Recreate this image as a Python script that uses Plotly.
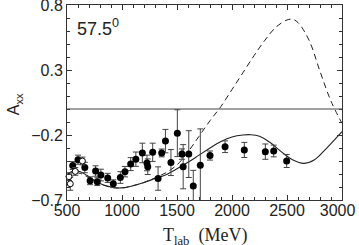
import plotly.graph_objects as go

# Theory curves
curve_T = [500, 540, 580, 620, 680, 750, 820, 900, 960, 1020, 1100, 1200, 1300, 1400, 1500,
           1600, 1700, 1800, 1900, 2000, 2100, 2170, 2250, 2350, 2450, 2550, 2650, 2750,
           2850, 2950, 3000]
solid_A = [-0.505, -0.482, -0.476, -0.482, -0.51, -0.55, -0.58, -0.60, -0.608, -0.605, -0.59,
           -0.565, -0.535, -0.505, -0.46, -0.41, -0.355, -0.30, -0.25, -0.215, -0.2, -0.198,
           -0.21, -0.26, -0.33, -0.39, -0.418, -0.39, -0.31, -0.22, -0.175]

dash_T = [500, 540, 580, 620, 680, 750, 820, 900, 960, 1020, 1100, 1200, 1300, 1400, 1500,
          1600, 1700, 1800, 1900, 2000, 2100, 2200, 2300, 2400, 2500, 2550, 2600, 2700,
          2800, 2900, 3000]
dash_A = [-0.52, -0.50, -0.492, -0.495, -0.52, -0.555, -0.583, -0.602, -0.608, -0.605, -0.59,
          -0.565, -0.53, -0.49, -0.43, -0.33, -0.21, -0.09, 0.02, 0.15, 0.28, 0.41, 0.53,
          0.63, 0.685, 0.69, 0.665, 0.53, 0.29, 0.06, -0.11]

# Data (filled)
data_T = [552, 600, 662, 710, 760, 775, 808, 870, 921, 985, 1027, 1079, 1126, 1185, 1227,
          1234, 1279, 1328, 1361, 1395, 1445, 1503, 1545, 1556, 1607, 1648, 1712, 1800,
          1937, 2112, 2303, 2379, 2497]
data_A = [-0.435, -0.39, -0.45, -0.552, -0.477, -0.559, -0.508, -0.53, -0.575, -0.527,
          -0.482, -0.424, -0.386, -0.338, -0.415, -0.444, -0.333, -0.535, -0.338, -0.247,
          -0.412, -0.186, -0.347, -0.444, -0.347, -0.592, -0.433, -0.358, -0.29, -0.315,
          -0.328, -0.323, -0.40]
data_err = [0.03, 0.035, 0.04, 0.03, 0.04, 0.03, 0.045, 0.035, 0.03, 0.045, 0.04, 0.05,
            0.055, 0.075, 0.06, 0.06, 0.07, 0.09, 0.03, 0.09, 0.1, 0.18, 0.04, 0.17, 0.18,
            0.12, 0.28, 0.035, 0.045, 0.058, 0.059, 0.045, 0.05]

# Data (open)
open_T = [518, 530, 575, 640]
open_A = [-0.52, -0.575, -0.48, -0.40]
open_err = [0.03, 0.05, 0.03, 0.03]

REF_LINE = [0.0]

x_ticks = [500, 1000, 1500, 2000, 2500, 3000]
x_tick_text = ["500", "1000", "1500", "2000", "2500", "3000\u00a0\u00a0"]
y_ticks = [-0.7, -0.2, 0.3, 0.8]
y_tick_text = ["\u22120.7", "\u22120.2", "0.3", "0.8"]

fig = go.Figure()

fig.add_trace(go.Scatter(x=curve_T, y=solid_A, mode="lines",
                         line=dict(color="#222", width=1.1, shape="spline"), showlegend=False))
fig.add_trace(go.Scatter(x=dash_T, y=dash_A, mode="lines",
                         line=dict(color="#222", width=1, dash="6px,4px", shape="spline"),
                         showlegend=False))
fig.add_trace(go.Scatter(x=data_T, y=data_A, mode="markers",
                         marker=dict(color="black", size=7),
                         error_y=dict(type="data", array=data_err, color="#444", thickness=1, width=3),
                         showlegend=False))
fig.add_trace(go.Scatter(x=open_T, y=open_A, mode="markers", cliponaxis=False,
                         marker=dict(color="white", size=6, line=dict(color="black", width=1)),
                         error_y=dict(type="data", array=open_err, color="#444", thickness=1, width=3),
                         showlegend=False))

for v in REF_LINE:
    fig.add_hline(y=v, line=dict(color="#444", width=1))

fig.add_annotation(text="57.5<sup>0</sup>", xref="paper", yref="paper", x=0.03, y=0.955,
                   xanchor="left", yanchor="top", showarrow=False,
                   font=dict(family="Liberation Sans", size=18, color="#222"))

# Axis titles
fig.add_annotation(text="T<sub>lab</sub>  (MeV)", xref="paper", yref="paper", x=0.5, y=-0.117,
                   xanchor="center", yanchor="top", showarrow=False,
                   font=dict(family="Liberation Serif", size=18, color="#222"))
fig.add_annotation(text="A<sub>xx</sub>", xref="paper", yref="paper", x=-0.19, y=0.49,
                   xanchor="center", yanchor="middle", showarrow=False, textangle=-90,
                   font=dict(family="Liberation Sans", size=16, color="#222"))

axis_common = dict(showline=True, linecolor="#333", linewidth=1, mirror="ticks",
                   ticks="inside", ticklen=5, tickcolor="#333", showgrid=False, zeroline=False,
                   ticklabeloverflow="allow", automargin=False)

fig.update_xaxes(range=[500, 3000], tickvals=x_ticks, ticktext=x_tick_text,
                 tickfont=dict(family="Liberation Sans", size=16, color="#222"),
                 ticklabelstandoff=-4,
                 minor=dict(dtick=100, tick0=500, ticks="inside", ticklen=3, tickcolor="#333"),
                 **axis_common)
fig.update_yaxes(range=[-0.7, 0.8], tickvals=y_ticks, ticktext=y_tick_text,
                 tickfont=dict(family="Liberation Sans", size=16, color="#222"),
                 minor=dict(dtick=0.1, tick0=-0.7, ticks="inside", ticklen=3, tickcolor="#333"),
                 **axis_common)

fig.update_layout(width=359, height=245, margin=dict(l=67, r=17, t=5, b=45),
                  plot_bgcolor="white", paper_bgcolor="white")

fig.write_html("out.html", config={"displayModeBar": False, "staticPlot": True},
               post_script="document.body.style.margin='0';document.body.style.overflow='hidden';")
